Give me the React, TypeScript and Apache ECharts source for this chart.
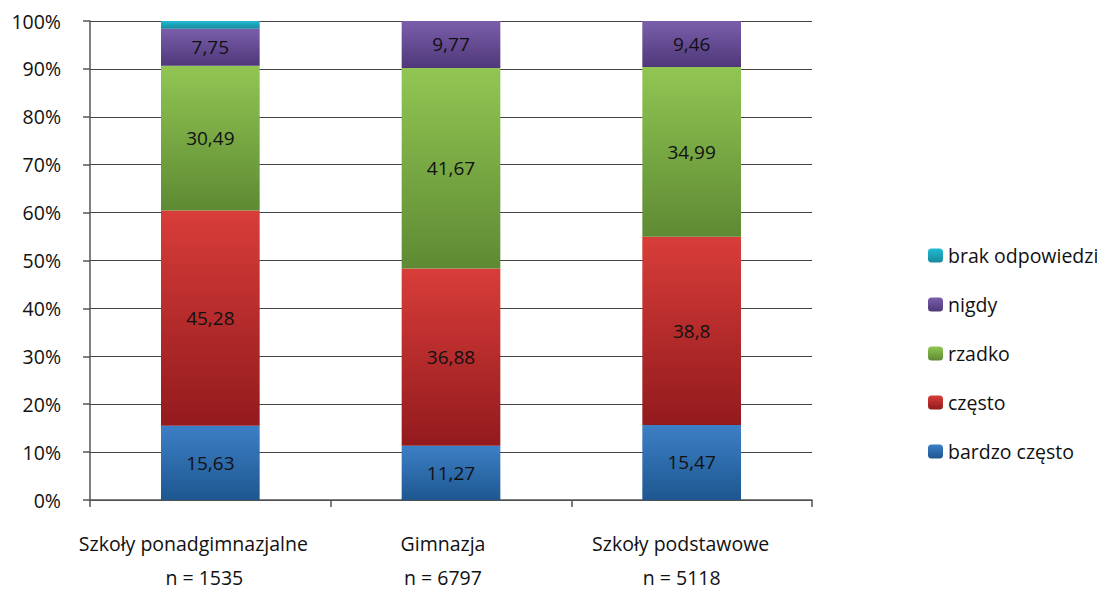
import React, { useEffect, useRef } from "react";
import * as echarts from "echarts";

const categories = ["Szkoły ponadgimnazjalne", "Gimnazja", "Szkoły podstawowe"];
const sampleSizes = ["n = 1535", "n = 6797", "n = 5118"];
const seriesNames = ["bardzo często", "często", "rzadko", "nigdy", "brak odpowiedzi"];
const bardzoCzesto = [15.63, 11.27, 15.47];
const czesto = [45.28, 36.88, 38.8];
const rzadko = [30.49, 41.67, 34.99];
const nigdy = [7.75, 9.77, 9.46];
const brakOdpowiedzi = [1.65, 0, 0];
const yTicks = [0, 10, 20, 30, 40, 50, 60, 70, 80, 90, 100];

const gradients: [string, string][] = [
  ["#3d7fc6", "#1d5790"],
  ["#d83d39", "#931a1e"],
  ["#91c653", "#5e8a33"],
  ["#7a5eab", "#4f387a"],
  ["#21bad6", "#17899d"],
];

// right padding (px) that nudges each label line left, as in the original layout
const namePad = [34, 16, 22];
const nPad = [12, 16, 20];

export default function App() {
  const ref = useRef<HTMLDivElement>(null);
  useEffect(() => {
    if (!ref.current) return;
    document.body.style.margin = "0";
    document.body.style.overflow = "hidden";
    const chart = echarts.init(ref.current, undefined, { renderer: "svg" });
    const raw = [bardzoCzesto, czesto, rzadko, nigdy, brakOdpowiedzi];
    const totals = categories.map((_, i) => raw.reduce((s, arr) => s + arr[i], 0));
    const font = "'Open Sans', sans-serif";
    const series = raw.map((arr, si) => ({
      name: seriesNames[si],
      type: "bar",
      stack: "total",
      barWidth: "41%",
      data: arr.map((v, i) => (v / totals[i]) * 100),
      itemStyle: {
        color: new echarts.graphic.LinearGradient(0, 0, 0, 1, [
          { offset: 0, color: gradients[si][0] },
          { offset: 1, color: gradients[si][1] },
        ]),
      },
      label: {
        show: si < 4,
        position: "inside",
        color: "#111",
        fontFamily: font,
        fontSize: 19,
        formatter: (p: any) => String(arr[p.dataIndex]).replace(".", ","),
      },
    }));
    const rich: Record<string, any> = {};
    categories.forEach((_, i) => {
      const base = { fontFamily: font, fontSize: 19.5, color: "#111", lineHeight: 34 };
      rich["t" + i] = { ...base, padding: [0, namePad[i], 0, 0] };
      rich["n" + i] = { ...base, padding: [0, nPad[i], 0, 0] };
    });
    chart.setOption({
      animation: false,
      textStyle: { fontFamily: font },
      grid: { left: 90, width: 722, top: 21, height: 489 },
      legend: {
        orient: "vertical",
        left: 923,
        top: 240,
        itemWidth: 15,
        itemHeight: 14,
        itemGap: 28,
        data: [...seriesNames].reverse(),
        textStyle: { fontFamily: font, fontSize: 19.5, color: "#111", lineHeight: 21 },
      },
      xAxis: {
        type: "category",
        data: categories,
        axisLine: { lineStyle: { color: "#555", width: 1.5 } },
        axisTick: { show: true, length: 7, lineStyle: { color: "#555", width: 1.5 } },
        axisLabel: {
          margin: 26,
          color: "#111",
          fontFamily: font,
          fontSize: 19.5,
          lineHeight: 34,
          interval: 0,
          formatter: (v: string, i: number) => `{t${i}|${v}}\n{n${i}|${sampleSizes[i]}}`,
          rich,
        },
      },
      yAxis: {
        type: "value",
        min: yTicks[0],
        max: yTicks[yTicks.length - 1],
        interval: 10,
        axisLine: { show: true, lineStyle: { color: "#555", width: 1.5 } },
        axisTick: { show: true, length: 7, lineStyle: { color: "#555", width: 1.5 } },
        splitLine: { lineStyle: { color: "#444", width: 1.2 } },
        axisLabel: {
          margin: 29,
          color: "#111",
          fontFamily: font,
          fontSize: 19.5,
          padding: [4, 0, 0, 0],
          formatter: "{value}%",
        },
      },
      series,
    });
    return () => chart.dispose();
  }, []);
  return <div ref={ref} style={{ width: 1097, height: 594, background: "#fff" }} />;
}
